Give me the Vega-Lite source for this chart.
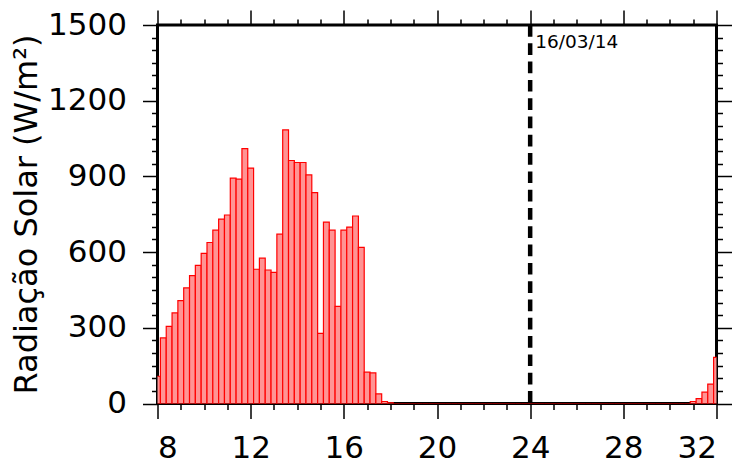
{
  "$schema": "https://vega.github.io/schema/vega-lite/v6.json",
  "width": 559,
  "height": 378.5,
  "autosize": {"type": "none"},
  "padding": {"left": 157.5, "top": 25, "right": 33.5, "bottom": 62.5},
  "background": "white",
  "config": {
    "view": {"stroke": "black", "strokeWidth": 3},
    "font": "DejaVu Sans",
    "axis": {"grid": false, "domain": false, "tickColor": "black", "tickWidth": 1.5, "labelColor": "black", "labelFont": "DejaVu Sans", "titleFont": "DejaVu Sans", "titleColor": "black", "titleFontWeight": "normal"}
  },
  "resolve": {"axis": {"x": "independent", "y": "independent"}},
  "layer": [
    {
      "data": {"values": [
        {"t": 8.0, "v": 108}, {"t": 8.25, "v": 260}, {"t": 8.5, "v": 306}, {"t": 8.75, "v": 359},
        {"t": 9.0, "v": 408}, {"t": 9.25, "v": 458}, {"t": 9.5, "v": 507}, {"t": 9.75, "v": 547},
        {"t": 10.0, "v": 595}, {"t": 10.25, "v": 638}, {"t": 10.5, "v": 687}, {"t": 10.75, "v": 731},
        {"t": 11.0, "v": 747}, {"t": 11.25, "v": 893}, {"t": 11.5, "v": 889}, {"t": 11.75, "v": 1010},
        {"t": 12.0, "v": 933}, {"t": 12.25, "v": 532}, {"t": 12.5, "v": 576}, {"t": 12.75, "v": 529},
        {"t": 13.0, "v": 520}, {"t": 13.25, "v": 671}, {"t": 13.5, "v": 1084}, {"t": 13.75, "v": 963},
        {"t": 14.0, "v": 955}, {"t": 14.25, "v": 955}, {"t": 14.5, "v": 906}, {"t": 14.75, "v": 836},
        {"t": 15.0, "v": 278}, {"t": 15.25, "v": 719}, {"t": 15.5, "v": 687}, {"t": 15.75, "v": 385},
        {"t": 16.0, "v": 687}, {"t": 16.25, "v": 699}, {"t": 16.5, "v": 743}, {"t": 16.75, "v": 619},
        {"t": 17.0, "v": 124}, {"t": 17.25, "v": 121}, {"t": 17.5, "v": 38}, {"t": 17.75, "v": 8},
        {"t": 18.0, "v": 3}, {"t": 18.25, "v": 0}, {"t": 18.5, "v": 0}, {"t": 18.75, "v": 0},
        {"t": 19.0, "v": 0}, {"t": 19.25, "v": 0}, {"t": 19.5, "v": 0}, {"t": 19.75, "v": 0},
        {"t": 20.0, "v": 0}, {"t": 20.25, "v": 0}, {"t": 20.5, "v": 0}, {"t": 20.75, "v": 0},
        {"t": 21.0, "v": 0}, {"t": 21.25, "v": 0}, {"t": 21.5, "v": 0}, {"t": 21.75, "v": 0},
        {"t": 22.0, "v": 0}, {"t": 22.25, "v": 0}, {"t": 22.5, "v": 0}, {"t": 22.75, "v": 0},
        {"t": 23.0, "v": 0}, {"t": 23.25, "v": 0}, {"t": 23.5, "v": 0}, {"t": 23.75, "v": 0},
        {"t": 24.0, "v": 0}, {"t": 24.25, "v": 0}, {"t": 24.5, "v": 0}, {"t": 24.75, "v": 0},
        {"t": 25.0, "v": 0}, {"t": 25.25, "v": 0}, {"t": 25.5, "v": 0}, {"t": 25.75, "v": 0},
        {"t": 26.0, "v": 0}, {"t": 26.25, "v": 0}, {"t": 26.5, "v": 0}, {"t": 26.75, "v": 0},
        {"t": 27.0, "v": 0}, {"t": 27.25, "v": 0}, {"t": 27.5, "v": 0}, {"t": 27.75, "v": 0},
        {"t": 28.0, "v": 0}, {"t": 28.25, "v": 0}, {"t": 28.5, "v": 0}, {"t": 28.75, "v": 0},
        {"t": 29.0, "v": 0}, {"t": 29.25, "v": 0}, {"t": 29.5, "v": 0}, {"t": 29.75, "v": 0},
        {"t": 30.0, "v": 0}, {"t": 30.25, "v": 0}, {"t": 30.5, "v": 0}, {"t": 30.75, "v": 0},
        {"t": 31.0, "v": 8}, {"t": 31.25, "v": 19}, {"t": 31.5, "v": 45}, {"t": 31.75, "v": 77},
        {"t": 32.0, "v": 183}
      ]},
      "mark": {"type": "bar", "size": 5.82, "fill": "#ff9494", "stroke": "#ff0000", "strokeWidth": 1.2, "clip": true},
      "encoding": {
        "x": {"field": "t", "type": "quantitative", "scale": {"domain": [8, 32], "nice": false, "zero": false, "padding": 0},
              "axis": {"orient": "bottom", "values": [8, 12, 16, 20, 24, 28, 32], "tickSize": 15, "labelFontSize": 31, "labelPadding": 15, "title": null}},
        "y": {"field": "v", "type": "quantitative", "scale": {"domain": [0, 1500], "nice": false, "padding": 0},
              "axis": {"orient": "left", "values": [0, 300, 600, 900, 1200, 1500], "format": "d", "tickSize": 15, "labelFontSize": 31, "labelPadding": 16,
                       "title": "Radiação Solar (W/m²)", "titleFontSize": 32, "titleAngle": 270, "titleAlign": "center", "titleBaseline": "alphabetic", "titleX": -121, "titleY": 189}}
      }
    },
    {
      "data": {"values": [{"t": 24, "label": "16/03/14"}]},
      "mark": {"type": "rule", "color": "black", "strokeWidth": 4.5, "strokeDash": [11.7, 6.6]},
      "encoding": {
        "x": {"field": "t", "type": "quantitative", "scale": {"domain": [8, 32], "nice": false, "zero": false, "padding": 0},
              "axis": {"orient": "bottom", "values": [9, 10, 11, 13, 14, 15, 17, 18, 19, 21, 22, 23, 25, 26, 27, 29, 30, 31], "tickSize": 6, "labels": false, "title": null}},
        "y": {"datum": 1500, "type": "quantitative", "scale": {"domain": [0, 1500], "nice": false, "padding": 0},
              "axis": {"orient": "left", "values": [50, 100, 150, 200, 250, 350, 400, 450, 500, 550, 650, 700, 750, 800, 850, 950, 1000, 1050, 1100, 1150, 1250, 1300, 1350, 1400, 1450], "tickSize": 6, "labels": false, "title": null}},
        "y2": {"datum": 0}
      }
    },
    {
      "data": {"values": [{"t": 24, "label": "16/03/14"}]},
      "mark": {"type": "text", "align": "left", "baseline": "top", "dx": 5, "dy": 8, "fontSize": 18.5, "font": "DejaVu Sans", "color": "black"},
      "encoding": {
        "x": {"field": "t", "type": "quantitative", "scale": {"domain": [8, 32], "nice": false, "zero": false, "padding": 0},
              "axis": {"orient": "top", "values": [8, 12, 16, 20, 24, 28, 32], "tickSize": 15, "labels": false, "title": null}},
        "y": {"datum": 1500, "type": "quantitative", "scale": {"domain": [0, 1500], "nice": false, "padding": 0},
              "axis": {"orient": "right", "values": [0, 300, 600, 900, 1200, 1500], "tickSize": 15, "labels": false, "title": null}},
        "text": {"field": "label"}
      }
    },
    {
      "data": {"values": [{"t": 24, "label": "16/03/14"}]},
      "mark": {"type": "point", "opacity": 0},
      "encoding": {
        "x": {"field": "t", "type": "quantitative", "scale": {"domain": [8, 32], "nice": false, "zero": false, "padding": 0},
              "axis": {"orient": "top", "values": [9, 10, 11, 13, 14, 15, 17, 18, 19, 21, 22, 23, 25, 26, 27, 29, 30, 31], "tickSize": 6, "labels": false, "title": null}},
        "y": {"datum": 1500, "type": "quantitative", "scale": {"domain": [0, 1500], "nice": false, "padding": 0},
              "axis": {"orient": "right", "values": [50, 100, 150, 200, 250, 350, 400, 450, 500, 550, 650, 700, 750, 800, 850, 950, 1000, 1050, 1100, 1150, 1250, 1300, 1350, 1400, 1450], "tickSize": 6, "labels": false, "title": null}}
      }
    }
  ]
}
